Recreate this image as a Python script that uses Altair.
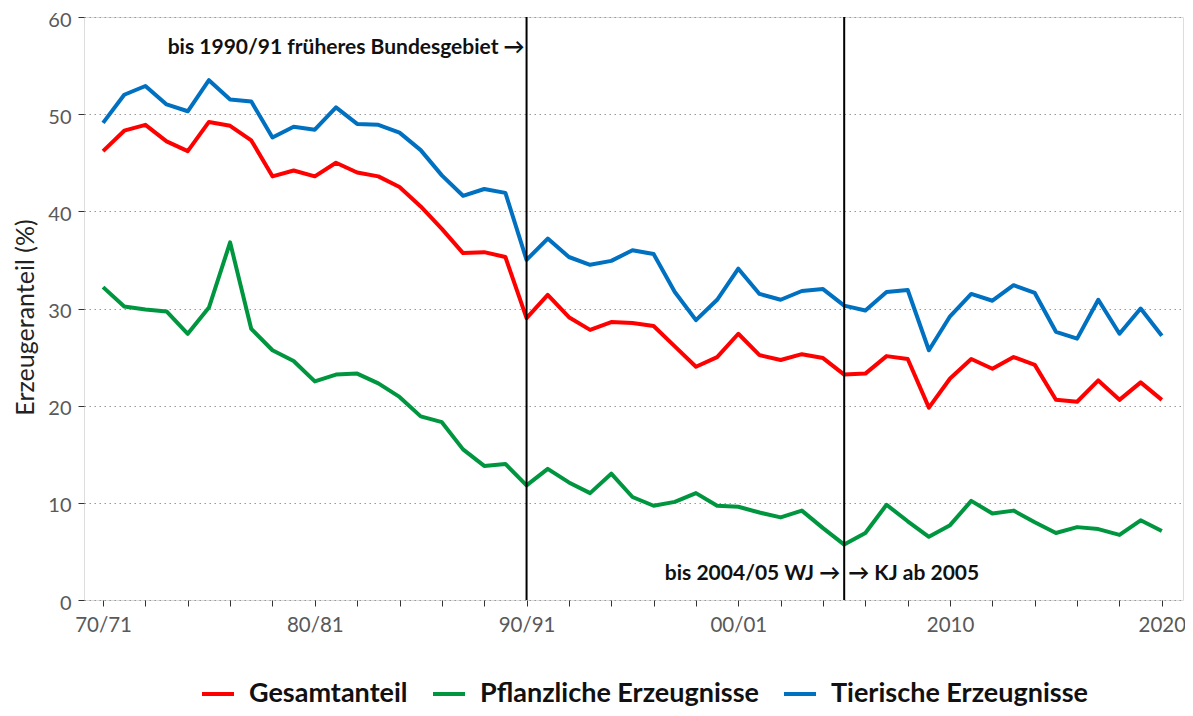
import altair as alt
import pandas as pd

years = list(range(1970, 2021))

gesamt = [46.2, 48.3, 48.9, 47.2, 46.2, 49.2, 48.8, 47.3, 43.6, 44.2,
          43.6, 45.0, 44.0, 43.6, 42.5, 40.5, 38.2, 35.7, 35.8, 35.3,
          29.0, 31.4, 29.1, 27.8, 28.6, 28.5, 28.2, 26.1, 24.0, 25.0,
          27.4, 25.2, 24.7, 25.3, 24.9, 23.2, 23.3, 25.1, 24.8, 19.8,
          22.8, 24.8, 23.8, 25.0, 24.2, 20.6, 20.4, 22.6, 20.6, 22.4, 20.6]

pflanzlich = [32.2, 30.2, 29.9, 29.7, 27.4, 30.1, 36.8, 27.9, 25.7, 24.6,
              22.5, 23.2, 23.3, 22.3, 20.9, 18.9, 18.3, 15.5, 13.8, 14.0,
              11.8, 13.5, 12.1, 11.0, 13.0, 10.6, 9.7, 10.1, 11.0, 9.7,
              9.6, 9.0, 8.5, 9.2, 7.4, 5.7, 6.9, 9.8, 8.1, 6.5,
              7.7, 10.2, 8.9, 9.2, 8.0, 6.9, 7.5, 7.3, 6.7, 8.2, 7.1]

tierisch = [49.1, 52.0, 52.9, 51.0, 50.3, 53.5, 51.5, 51.3, 47.6, 48.7,
            48.4, 50.7, 49.0, 48.9, 48.1, 46.3, 43.7, 41.6, 42.3, 41.9,
            35.0, 37.2, 35.3, 34.5, 34.9, 36.0, 35.6, 31.7, 28.8, 30.9,
            34.1, 31.5, 30.9, 31.8, 32.0, 30.3, 29.8, 31.7, 31.9, 25.7,
            29.2, 31.5, 30.8, 32.4, 31.6, 27.6, 26.9, 30.9, 27.4, 30.0, 27.2]

series_names = ["Gesamtanteil", "Pflanzliche Erzeugnisse", "Tierische Erzeugnisse"]
series_colors = ["#FF0000", "#00963F", "#0070C0"]

label_years = [1970, 1980, 1990, 2000, 2010, 2020]
label_texts = ["70/71", "80/81", "90/91", "00/01", "2010", "2020"]

break_years = [1990, 2005]

top_note = {"Jahr": 1990, "Wert": 56.8, "Text": "bis 1990/91 früheres Bundesgebiet →"}
left_note = {"Jahr": 2005, "Wert": 2.7, "Text": "bis 2004/05 WJ →"}
right_note = {"Jahr": 2005, "Wert": 2.7, "Text": "→ KJ ab 2005"}

rows = []
for name, vals in zip(series_names, [gesamt, pflanzlich, tierisch]):
    for y, v in zip(years, vals):
        rows.append({"Jahr": y, "Wert": v, "Reihe": name})
df = pd.DataFrame(rows)

label_expr = " : ".join(
    f"datum.value == {y} ? '{t}'" for y, t in zip(label_years, label_texts)
) + " : ''"

FONT = "Lato"
W, H = 1099, 583

x_scale = alt.Scale(domain=[1969.1, 2021.0], nice=False, zero=False)
y_scale = alt.Scale(domain=[0, 60], nice=False)

lines = alt.Chart(df).mark_line(strokeWidth=4, strokeJoin="round").encode(
    x=alt.X("Jahr:Q", scale=x_scale,
            axis=alt.Axis(values=years, labelExpr=label_expr, title=None,
                          grid=False, tickSize=6, tickColor="#333333",
                          domain=False, labelFontSize=20.5, labelColor="#595959",
                          labelFont=FONT, labelPadding=9, labelFlush=False,
                          labelOverlap=False)),
    y=alt.Y("Wert:Q", scale=y_scale,
            axis=alt.Axis(values=[0, 10, 20, 30, 40, 50, 60], title="Erzeugeranteil (%)",
                          grid=True, gridDash=[1.5, 3.5], gridColor="#999999", gridWidth=1,
                          tickSize=6, tickColor="#333333", domain=False,
                          labelFontSize=20, labelColor="#595959", labelFont=FONT,
                          labelPadding=7, labelOffset=3,
                          titleFont=FONT, titleFontSize=25, titleFontWeight="normal",
                          titleColor="#222222", titleX=-59, titleY=300,
                          titleAngle=270, titleAlign="center", titleBaseline="middle")),
    color=alt.Color("Reihe:N", sort=series_names,
                    scale=alt.Scale(domain=series_names, range=series_colors),
                    legend=alt.Legend(title=None, orient="none", direction="horizontal",
                                      legendX=116, legendY=659,
                                      symbolType="stroke", symbolStrokeWidth=4,
                                      symbolSize=1024, labelFont=FONT,
                                      labelFontSize=27, labelFontWeight="bold",
                                      labelColor="#111111", labelOffset=13,
                                      columnPadding=17, labelLimit=500)),
    order=alt.Order("Jahr:Q"),
)

vlines = alt.Chart(pd.DataFrame({"Jahr": break_years})).mark_rule(
    color="black", strokeWidth=2
).encode(x=alt.X("Jahr:Q", scale=x_scale))


def note(d, align, dx):
    return alt.Chart(pd.DataFrame([d])).mark_text(
        align=align, baseline="middle", dx=dx, font=FONT, fontSize=21,
        fontWeight="bold", color="#111111"
    ).encode(x=alt.X("Jahr:Q", scale=x_scale),
             y=alt.Y("Wert:Q", scale=y_scale), text="Text:N")


notes = [note(top_note, "right", -2), note(left_note, "right", -4),
         note(right_note, "left", 4)]

chart = alt.layer(lines, vlines, *notes).properties(
    width=W, height=H,
    autosize=alt.AutoSizeParams(type="none"),
    padding={"left": 76, "top": 9, "right": 2, "bottom": 108},
).configure_view(
    fill="#EBEBEB", stroke="#333333", strokeWidth=1.5
).configure(background="white")

chart.save("out.html", embed_options={"renderer": "svg", "actions": False})
